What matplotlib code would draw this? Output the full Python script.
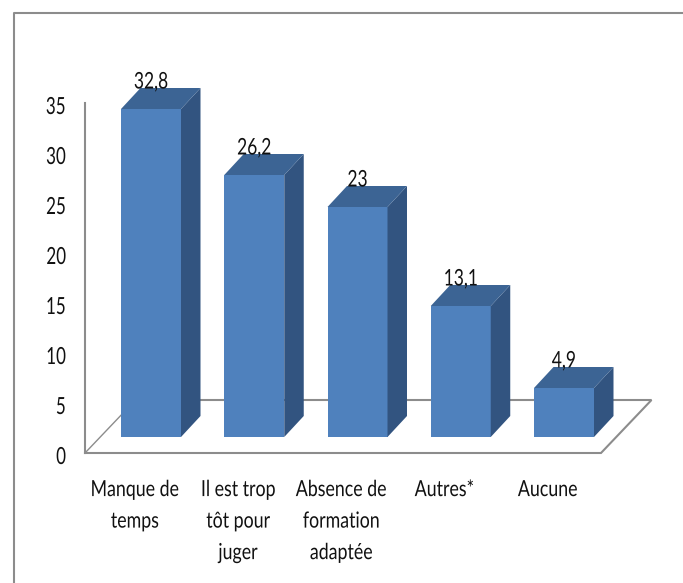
import matplotlib
matplotlib.use("Agg")
import matplotlib.pyplot as plt
from matplotlib.patches import Polygon
from matplotlib.lines import Line2D
from matplotlib.patheffects import AbstractPathEffect
from matplotlib.transforms import Affine2D

categories = ["Manque de\ntemps", "Il est trop\ntôt pour\njuger", "Absence de\nformation\nadaptée", "Autres*", "Aucune"]
values = [32.8, 26.2, 23, 13.1, 4.9]
value_labels = ["32,8", "26,2", "23", "13,1", "4,9"]
y_ticks = [0, 5, 10, 15, 20, 25, 30, 35]


class Squeeze(AbstractPathEffect):
    """Narrow the glyphs horizontally, about the centre or right edge of the line."""
    def __init__(self, sx, anchor="center", shift_y=0):
        super().__init__()
        self.sx = sx
        self.anchor = anchor
        self.shift_y = shift_y

    def draw_path(self, renderer, gc, tpath, affine, rgbFace=None):
        e = tpath.get_extents()
        c = e.x1 if self.anchor == "right" else (e.x0 + e.x1) / 2
        t = Affine2D().translate(-c, 0).scale(self.sx, 1).translate(c, 0)
        renderer.draw_path(gc, tpath, t + affine + Affine2D().translate(0, self.shift_y), rgbFace)


W, H = 683, 583
DPI = 100
plt.rcParams["font.family"] = ["Lato", "DejaVu Sans"]
fig = plt.figure(figsize=(W / DPI, H / DPI), dpi=DPI, facecolor="white")

GREY = "#8c8c8c"
TXT = "#111111"
fig.add_artist(Line2D([13.5 / W, 13.5 / W, 1], [0, 1 - 12.5 / H, 1 - 12.5 / H], color=GREY, lw=1.5))

AX_L, AX_R, AX_T, AX_B = 85, 651, 103, 453
ax = fig.add_axes([AX_L / W, 1 - AX_B / H, (AX_R - AX_L) / W, (AX_B - AX_T) / H])
ax.patch.set_visible(False)

PX_PER_CAT = 103.25
PX_PER_UNIT = (AX_B - AX_T) / 35
C0 = 151
ax.set_xlim((AX_L - C0) / PX_PER_CAT, (AX_R - C0) / PX_PER_CAT)
ax.set_ylim(0, 35)

dx = 19.5 / PX_PER_CAT
dy = 21 / PX_PER_UNIT
base = 16 / PX_PER_UNIT
width = 60 / PX_PER_CAT
xs = list(range(len(values)))

fx0, fx1 = (85 - C0) / PX_PER_CAT, (601 - C0) / PX_PER_CAT
fshift = 50.5 / PX_PER_CAT
fh = 5.3
ax.plot([fx0, fx1, fx1 + fshift, fx0 + fshift], [0, 0, fh, fh], color=GREY, lw=1.5, clip_on=False, zorder=1, solid_joinstyle="miter")
ax.plot([fx0, fx0 + fshift], [0, fh], color=GREY, lw=1.0, clip_on=False, zorder=1)

for x, v, lab in zip(xs, values, value_labels):
    l, r = x - width / 2, x + width / 2
    b, t = base, base + v
    ax.bar(x, v, width=width, bottom=base, color="#4F81BD", edgecolor="none", zorder=3, clip_on=False)
    ax.add_patch(Polygon([(r, b), (r + dx, b + dy), (r + dx, t + dy), (r, t)], closed=True, facecolor="#325480", edgecolor="none", zorder=3, clip_on=False))
    ax.add_patch(Polygon([(l, t), (r, t), (r + dx, t + dy), (l + dx, t + dy)], closed=True, facecolor="#3C6494", edgecolor="none", zorder=3, clip_on=False))
    ax.text(x, t + dy + 0.6, lab, ha="center", va="center", fontsize=16.5, color=TXT, zorder=4, clip_on=False,
            path_effects=[Squeeze(0.76)])

for s in ["top", "right", "bottom"]:
    ax.spines[s].set_visible(False)
ax.spines["left"].set_color(GREY)
ax.spines["left"].set_linewidth(1.5)

ax.set_yticks(y_ticks)
ax.set_yticklabels([str(t) for t in y_ticks], fontsize=17, color=TXT)
for lab in ax.get_yticklabels():
    lab.set_path_effects([Squeeze(0.72, "right", -2.5)])
ax.tick_params(axis="y", length=0, pad=13.5)

ax.set_xticks([x - 16 / PX_PER_CAT for x in xs])
ax.set_xticklabels(categories, fontsize=16, color=TXT, linespacing=1.72, va="top")
for lab in ax.get_xticklabels():
    lab.set_path_effects([Squeeze(0.8)])
ax.tick_params(axis="x", length=0, pad=19.5)

fig.savefig("out.png", dpi=DPI, facecolor="white")
